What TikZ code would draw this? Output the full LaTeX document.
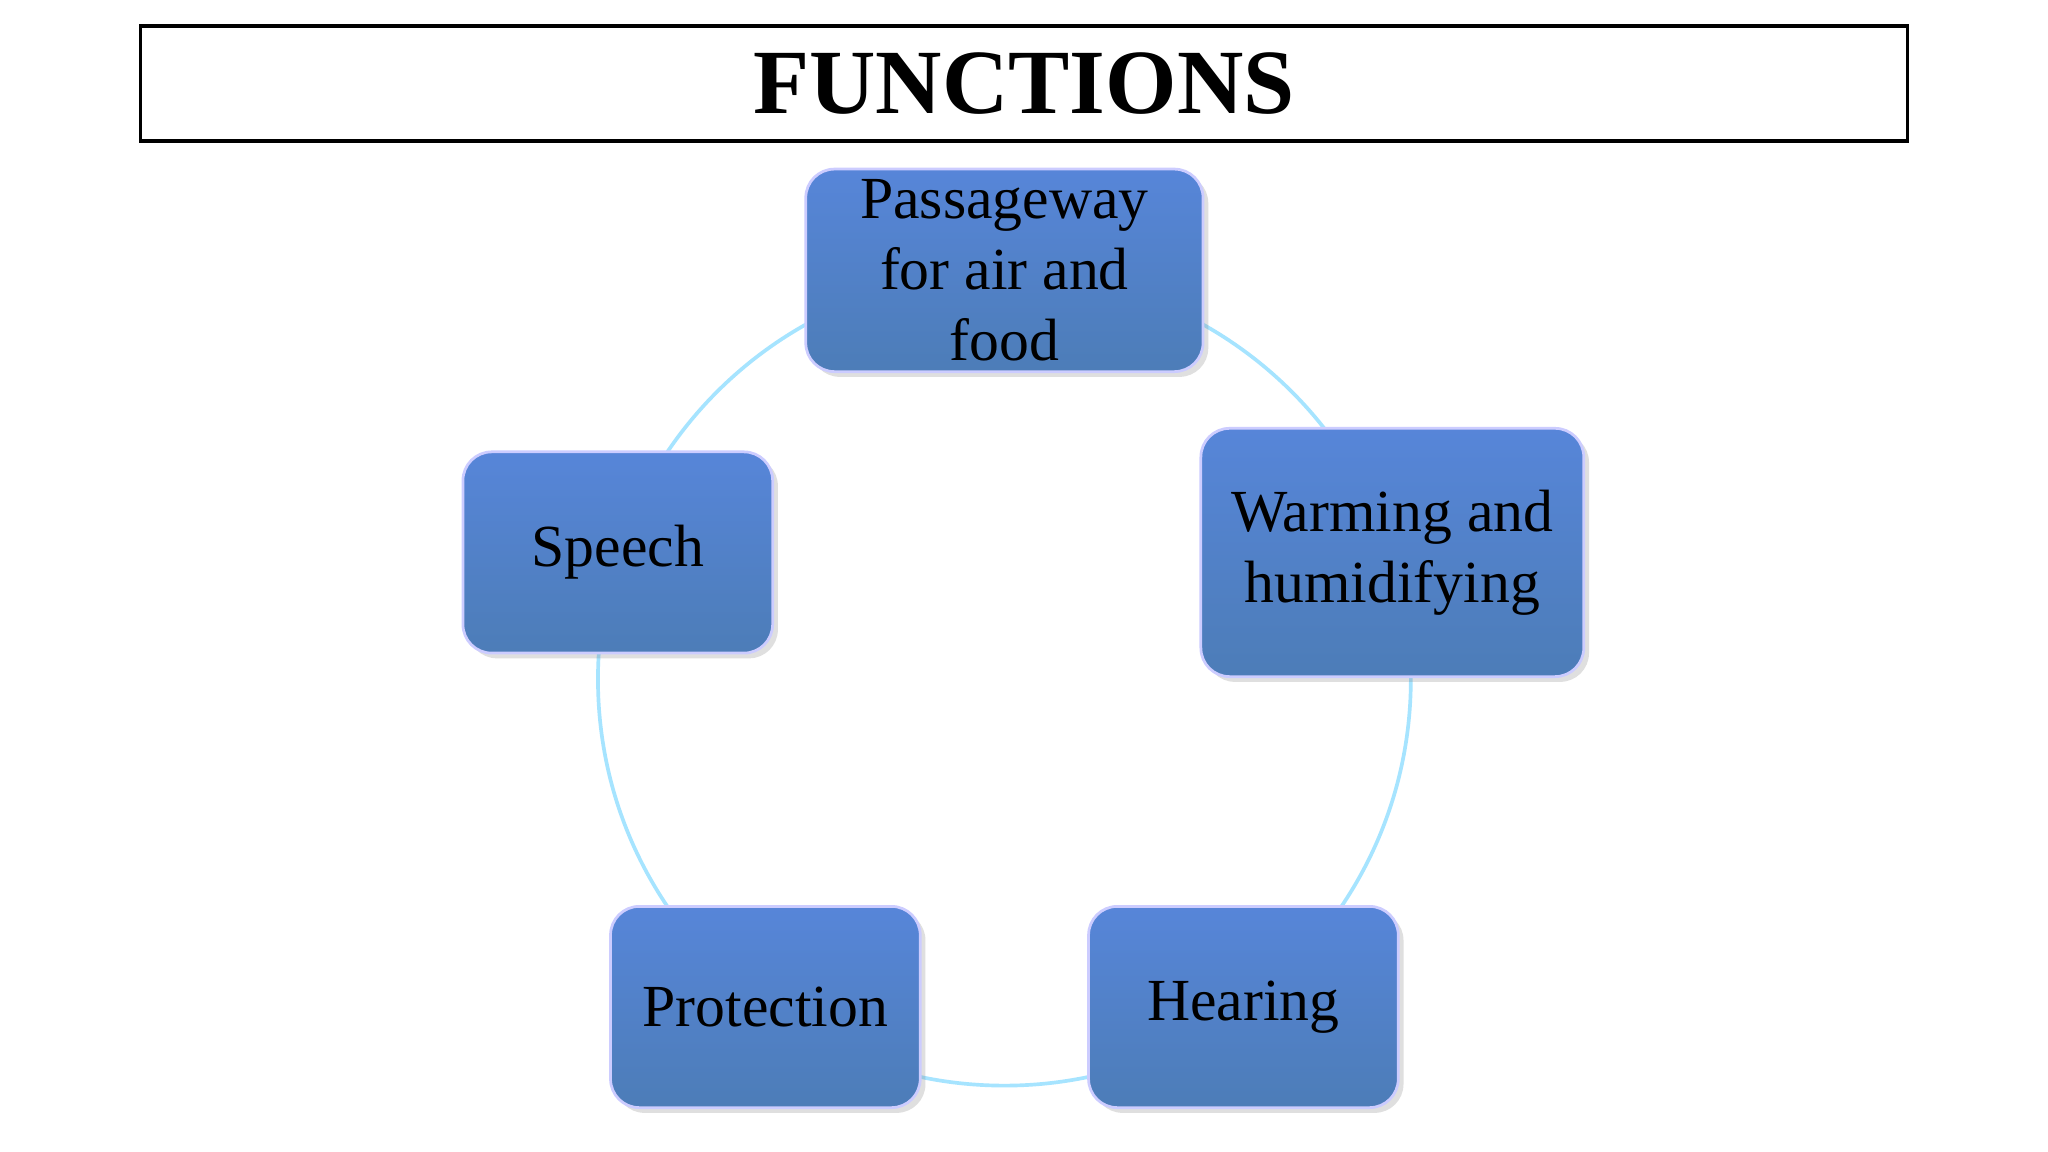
\documentclass[tikz,border=0pt]{standalone}
\usepackage{fontspec}
\setmainfont{Liberation Serif}
\usetikzlibrary{shadows}
\begin{document}
\begin{tikzpicture}[x=0.01cm,y=-0.01cm,
  box/.style={rounded corners=0.22cm, top color=blue!10!cyan!40!blue!60!white!85!black, bottom color=blue!55!cyan!60!black!70!white,
    draw=white!80!blue, line width=0.6pt, text=black, font=\fontsize{13pt}{15.5pt}\selectfont, align=center, inner sep=0pt,
    drop shadow={shadow xshift=0.04cm,shadow yshift=-0.04cm,opacity=0.25}},
  ring/.style={draw=blue!30!cyan!35, line width=0.8pt}]
\useasboundingbox (0,0) rectangle (1568,882);
\fill[white] (0,0) rectangle (1568,882);
\node[draw=black, line width=0.8pt, minimum width=13.52cm, minimum height=0.88cm, font=\fontsize{20pt}{24pt}\selectfont\bfseries] (title) at (784,64) {FUNCTIONS};
\coordinate (c) at (769,520);
\draw[ring] (c) circle (0.311cm*10);
\node[box, minimum width=3.04cm, minimum height=1.55cm] (pass) at (769,207) {Passageway\\for air and\\food};
\node[box, minimum width=2.93cm, minimum height=1.9cm] (warm) at (1066,423) {Warming and\\humidifying};
\node[box, minimum width=2.37cm, minimum height=1.54cm] (hear) at (952,771) {Hearing};
\node[box, minimum width=2.37cm, minimum height=1.54cm] (prot) at (586,771) {Protection};
\node[box, minimum width=2.37cm, minimum height=1.54cm] (speech) at (473,423) {Speech};
\end{tikzpicture}
\end{document}
